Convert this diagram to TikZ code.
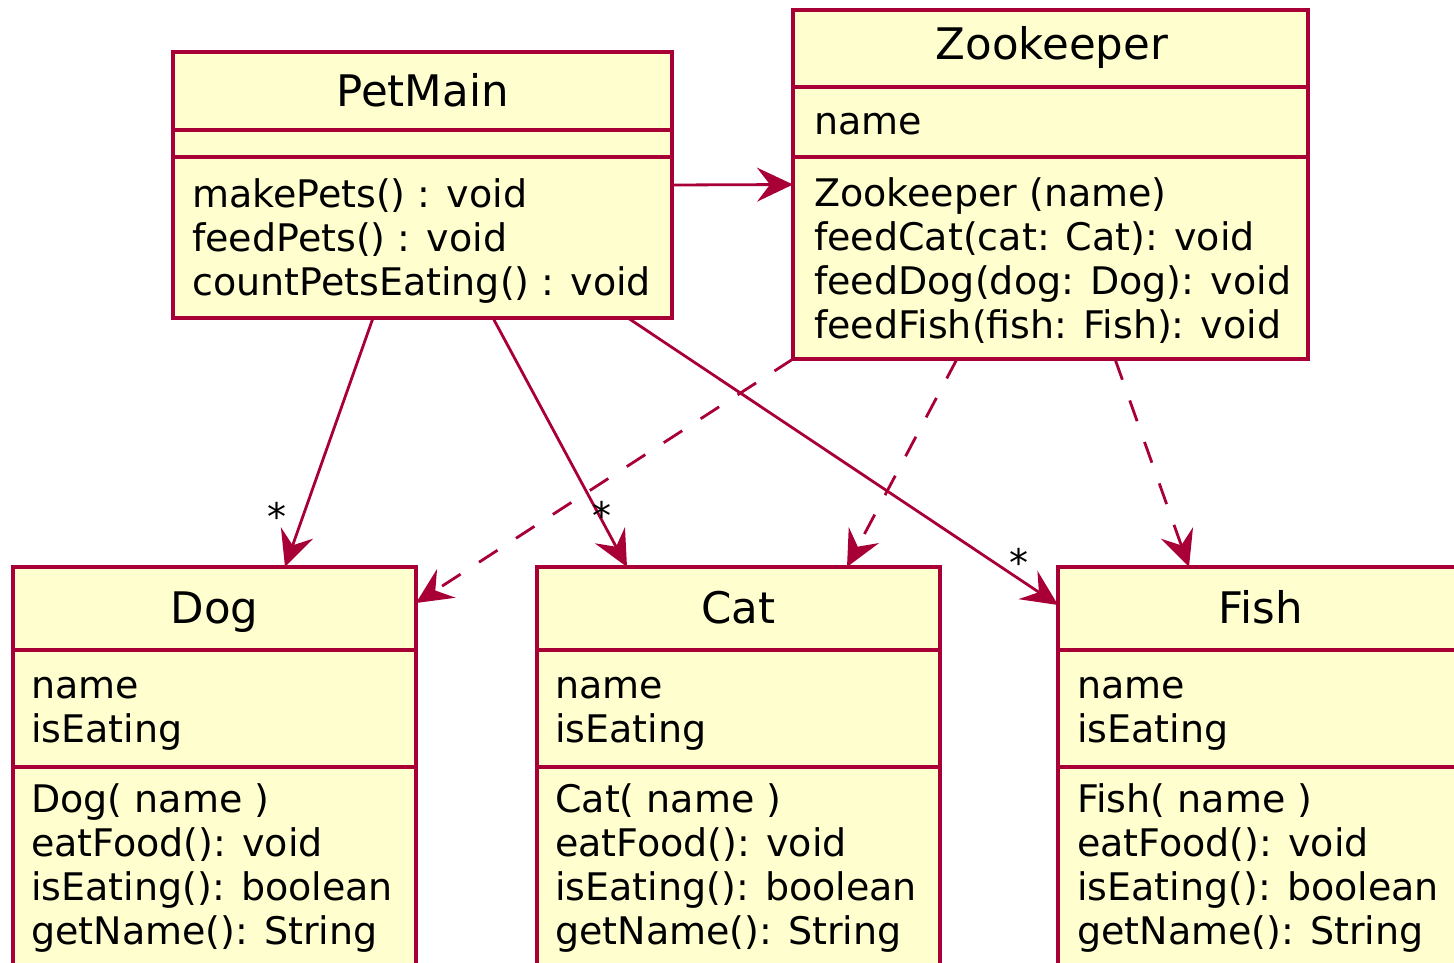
\documentclass[tikz,border=0pt]{standalone}
\usepackage{fontspec}
\setmainfont{DejaVu Sans}
\usetikzlibrary{arrows.meta}

\definecolor{umlborder}{HTML}{A80036}
\definecolor{umlfill}{HTML}{FEFECE}
\newcommand\umlfont{\fontsize{38}{44}\selectfont}
\newcommand\umltitlefont{\fontsize{43.5}{50}\selectfont}

\tikzset{
  classbox/.style={rectangle, draw=umlborder, fill=umlfill, line width=3.5pt,
                   anchor=north west, inner sep=0pt, outer sep=0pt},
  sepline/.style={draw=umlborder, line width=3.5pt},
  classtitle/.style={anchor=base, inner sep=0pt, font=\umltitlefont},
  members/.style={anchor=north west, inner sep=0pt, align=left, font=\umlfont},
  mult/.style={anchor=base, inner sep=0pt, font=\umlfont},
  assoc/.style={draw=umlborder, line width=2.8pt,
                -{Stealth[length=36pt,width=34pt,inset=13pt]}},
  dep/.style={assoc, dash pattern=on 22pt off 22pt},
}

\begin{document}
\begin{tikzpicture}[x=1pt, y=-1pt]
\useasboundingbox (0,0) rectangle (1454,963);
\clip (0,0) rectangle (1454,963);

% class boxes
\node[classbox, minimum width=499pt, minimum height=266pt] (petmain)   at (173,52)  {};
\node[classbox, minimum width=515pt, minimum height=349pt] (zookeeper) at (793,10)  {};
\node[classbox, minimum width=403pt, minimum height=430pt] (dog)       at (13,567)  {};
\node[classbox, minimum width=403pt, minimum height=430pt] (cat)       at (537,567) {};
\node[classbox, minimum width=403pt, minimum height=430pt] (fish)      at (1058,567) {};

% compartment separators
\foreach \b/\s in {petmain/78, petmain/105, zookeeper/77, zookeeper/147,
                   dog/83, dog/200, cat/83, cat/200, fish/83, fish/200}
  \draw[sepline] ([yshift=-\s pt]\b.north west) -- ([yshift=-\s pt]\b.north east);

% PetMain
\node[classtitle] (petmain-name) at (422.5,107) {PetMain};
\node[members] (petmain-ops) at (192,176)
  {\strut makePets() : void\\feedPets() : void\\countPetsEating() : void};

% Zookeeper
\node[classtitle] (zookeeper-name) at (1052,60) {Zookeeper};
\node[members] (zookeeper-attrs) at (814,104) {\strut name};
\node[members] (zookeeper-ops) at (814,175)
  {\strut Zookeeper (name)\\feedCat(cat: Cat): void\\feedDog(dog: Dog): void\\feedFish(fish: Fish): void};

% Dog
\node[classtitle] (dog-name) at (214.5,623) {Dog};
\node[members] (dog-attrs) at (31,667) {\strut name\\isEating};
\node[members] (dog-ops) at (31,781)
  {\strut Dog( name )\\eatFood(): void\\isEating(): boolean\\getName(): String};

% Cat
\node[classtitle] (cat-name) at (738.5,623) {Cat};
\node[members] (cat-attrs) at (555,667) {\strut name\\isEating};
\node[members] (cat-ops) at (555,781)
  {\strut Cat( name )\\eatFood(): void\\isEating(): boolean\\getName(): String};

% Fish
\node[classtitle] (fish-name) at (1261,623) {Fish};
\node[members] (fish-attrs) at (1077,667) {\strut name\\isEating};
\node[members] (fish-ops) at (1077,781)
  {\strut Fish( name )\\eatFood(): void\\isEating(): boolean\\getName(): String};

% associations from PetMain
\draw[assoc] (petmain.east) -- (zookeeper.west);
\draw[assoc] ([xshift=200pt]petmain.south west) -- ([xshift=272pt]dog.north west);
\draw[assoc] ([xshift=320pt]petmain.south west) -- ([xshift=90pt]cat.north west);
\draw[assoc] ([xshift=455pt]petmain.south west) -- ([yshift=-38pt]fish.north west);

% dependencies from Zookeeper
\draw[dep] (zookeeper.south west) -- ([yshift=-36pt]dog.north east);
\draw[dep] ([xshift=164pt]zookeeper.south west) -- ([xshift=310pt]cat.north west);
\draw[dep] ([xshift=322pt]zookeeper.south west) -- ([xshift=131pt]fish.north west);

% multiplicities
\node[mult] (mult-dog)  at (277,530)  {*};
\node[mult] (mult-cat)  at (602,529)  {*};
\node[mult] (mult-fish) at (1019,576) {*};
\end{tikzpicture}
\end{document}
